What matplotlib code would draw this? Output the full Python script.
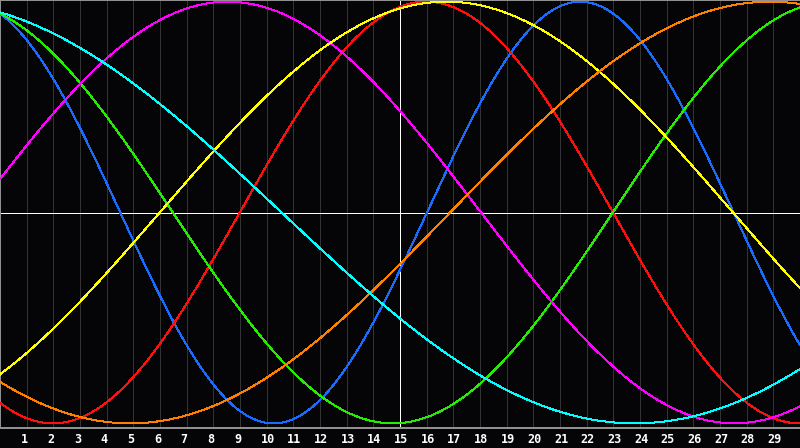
import numpy as np
import matplotlib
matplotlib.use("Agg")
import matplotlib.pyplot as plt
import matplotlib.transforms as mtransforms

# ---- data ----
days = list(range(1, 30))                      # x tick labels
day_span = (0, 30)                             # visible day range
today = 15                                     # highlighted day (white vertical line)

cycle_names = ["physical", "emotional", "intellectual", "intuitive",
               "aesthetic", "awareness", "spiritual"]
periods = [23, 28, 33, 38, 43, 48, 53]         # cycle lengths in days
peak_days = [21.76, 15.99, -1.77, 8.54, 16.74, 28.88, -2.69]  # day of a maximum
colors = ["#1a6cff", "#ff1010", "#22ee00", "#ff00ff", "#ffff00", "#ff8000", "#00ffff"]

# ---- figure ----
W, H, DPI = 800, 448, 100
PX = 72 / DPI  # one pixel in points
fig = plt.figure(figsize=(W / DPI, H / DPI), dpi=DPI, facecolor="#050508")
ax = fig.add_axes([0, 20 / H, 1, 428 / H])
ax.set_facecolor("#050508")

ax.set_xlim(*day_span)
ax.set_ylim(-1.022, 1.008)

# vertical day grid
for d in days:
    ax.axvline(d, color="#333333", lw=PX, antialiased=False, zorder=1)

# curves
t = np.linspace(day_span[0], day_span[1], 1600)
for P, pk, c in zip(periods, peak_days, colors):
    ax.plot(t, np.cos(2 * np.pi * (t - pk) / P), color=c, lw=PX,
            antialiased=False, zorder=3)

# centre line and today line
ax.axhline(0, color="white", lw=PX, antialiased=False, zorder=2)
ax.axvline(today, color="white", lw=PX, antialiased=False, zorder=2)

# spines / ticks
for s in ["left", "top", "bottom"]:
    ax.spines[s].set_color("#909090")
    ax.spines[s].set_linewidth(2 * PX)
ax.spines["right"].set_visible(False)
ax.set_xticks([])
ax.set_yticks([])

# day labels
trans = mtransforms.offset_copy(ax.get_xaxis_transform(), fig=fig,
                                x=-6, y=-11, units="dots")
for d in days:
    ax.text(d, 0, str(d), transform=trans, ha="left", va="center",
            color="white", fontsize=8.5, fontweight="bold",
            family="DejaVu Sans Mono", clip_on=False)

fig.savefig("out.png", dpi=DPI, facecolor=fig.get_facecolor())
